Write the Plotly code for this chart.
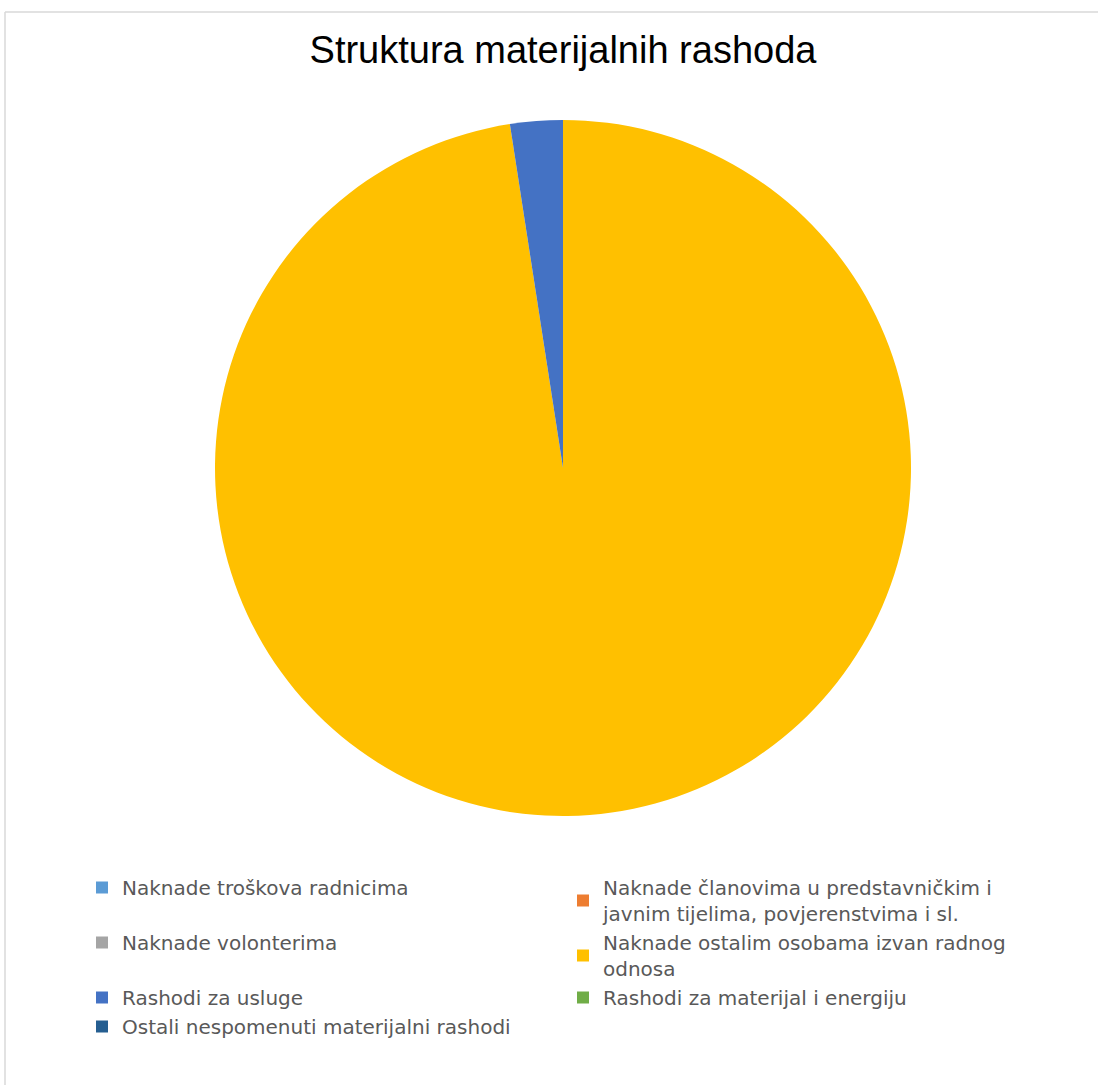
import plotly.graph_objects as go

labels = [
    "Naknade troškova radnicima",
    "Naknade članovima u predstavničkim i<br>javnim tijelima, povjerenstvima i sl.",
    "Naknade volonterima",
    "Naknade ostalim osobama izvan radnog<br>odnosa",
    "Rashodi za usluge",
    "Rashodi za materijal i energiju",
    "Ostali nespomenuti materijalni rashodi",
]
values = [0, 0, 0, 97.56, 2.44, 0, 0]
colors = ["#5B9BD5", "#ED7D31", "#A5A5A5", "#FFC000", "#4472C4", "#70AD47", "#255E91"]

W, H = 1098, 1085
cx, cy, r = 563, 468, 348

fig = go.Figure(go.Pie(
    labels=labels,
    values=values,
    marker=dict(colors=colors, line=dict(width=0)),
    sort=False,
    direction="clockwise",
    rotation=0,
    textinfo="none",
    hoverinfo="label+value+percent",
    domain=dict(x=[(cx - r) / W, (cx + r) / W], y=[(H - cy - r) / H, (H - cy + r) / H]),
))

fig.update_layout(
    width=W, height=H,
    margin=dict(l=0, r=0, t=0, b=0, autoexpand=False),
    paper_bgcolor="white",
    plot_bgcolor="white",
    title=dict(text="Struktura materijalnih rashoda", x=563 / W, xanchor="center",
               y=1 - 50 / H, yanchor="middle",
               font=dict(family="Liberation Sans, Arial", size=38, color="#000000")),
    legend=dict(
        orientation="h",
        x=82 / W, xanchor="left",
        y=1 - 868 / H, yanchor="top",
        entrywidth=436, entrywidthmode="pixels",
        font=dict(family="DejaVu Sans", size=20, color="#595959"),
        traceorder="normal",
        itemsizing="constant",
    ),
    shapes=[
        dict(type="line", xref="paper", yref="paper", x0=5 / W, x1=1, y0=1 - 12 / H, y1=1 - 12 / H,
             line=dict(color="#d9d9d9", width=1.5)),
        dict(type="line", xref="paper", yref="paper", x0=5 / W, x1=5 / W, y0=0, y1=1 - 12 / H,
             line=dict(color="#d9d9d9", width=1.5)),
    ],
)

fig.write_html("out.html", config={"displayModeBar": False},
               post_script="document.body.style.margin='0';")
